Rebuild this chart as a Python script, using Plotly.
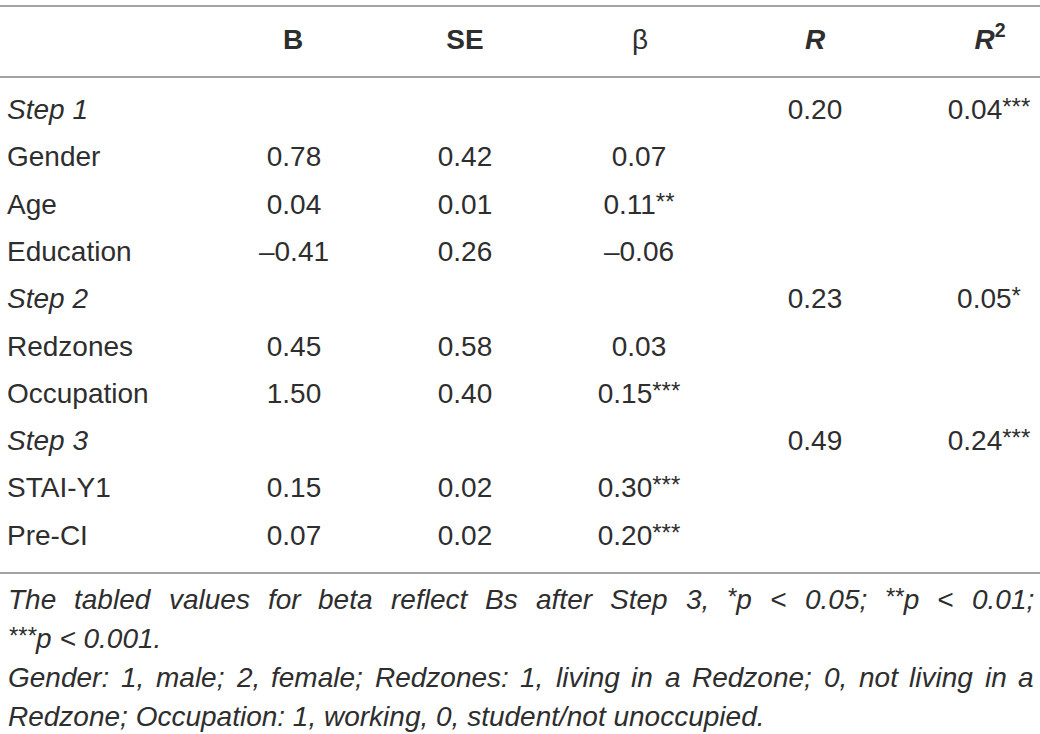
import re
import plotly.graph_objects as go

# table content
labels = ["Step 1", "Gender", "Age", "Education", "Step 2", "Redzones",
          "Occupation", "Step 3", "STAI-Y1", "Pre-CI"]
is_step = [True, False, False, False, True, False, False, True, False, False]
b_vals = ["", "0.78", "0.04", "\u20130.41", "", "0.45", "1.50", "", "0.15", "0.07"]
se_vals = ["", "0.42", "0.01", "0.26", "", "0.58", "0.40", "", "0.02", "0.02"]
beta_vals = ["", "0.07", "0.11", "\u20130.06", "", "0.03", "0.15", "", "0.30", "0.20"]
beta_sig = ["", "", "**", "", "", "", "***", "", "***", "***"]
r_vals = ["0.20", "", "", "", "0.23", "", "", "0.49", "", ""]
r2_vals = ["0.04", "", "", "", "0.05", "", "", "0.24", "", ""]
r2_sig = ["***", "", "", "", "*", "", "", "***", "", ""]
headers = ["<b>B</b>", "<b>SE</b>", "\u03b2", "<b><i>R</i></b>", "<b><i>R</i><sup>2</sup></b>"]

STAR = '<span style="font-size:24px;baseline-shift:4px">{}</span>'
notes = [
    ("The tabled values for beta reflect Bs after Step 3, " + STAR.format("*") + "p < 0.05; "
     + STAR.format("**") + "p < 0.01;", True),
    (STAR.format("***") + "p < 0.001.", False),
    ("Gender: 1, male; 2, female; Redzones: 1, living in a Redzone; 0, not living in a", True),
    ("Redzone; Occupation: 1, working, 0, student/not unoccupied.", False),
]

FONT = "Liberation Sans, Arial, sans-serif"
INK = "#2e2e2e"
SIZE = 28
NOTE_SIZE = 28
row_y = [112 + i * 47.3 for i in range(len(labels))]
col_x = [294, 465, 639, 815, 989]
head_x = [293, 465, 640, 815, 990]
note_y = [599, 638, 677, 716]
LEFT, RIGHT = 7, 1033

# approximate Arial advance widths (1/1000 em) for justifying footnote lines
W = {" ": 278, "*": 389, ",": 278, "-": 333, ".": 278, "/": 278, ":": 278, ";": 278, "<": 584}
for ch in "0123456789":
    W[ch] = 556
W.update(dict(zip("ABCDEFGHIJKLMNOPQRSTUVWXYZ",
                  [667, 667, 722, 722, 667, 611, 778, 722, 278, 500, 667, 556, 833,
                   722, 778, 667, 778, 722, 667, 611, 722, 667, 944, 667, 667, 611])))
W.update(dict(zip("abcdefghijklmnopqrstuvwxyz",
                  [556, 556, 500, 556, 556, 278, 556, 556, 222, 222, 500, 222, 833,
                   556, 556, 556, 556, 333, 500, 278, 556, 500, 722, 500, 500, 500])))


def text_width(s, size):
    w = 0.0
    for part in re.split(r"(<span[^>]*>.*?</span>)", s):
        if part.startswith("<span"):
            inner = re.sub(r"<[^>]+>", "", part)
            w += sum(W.get(c, 556) for c in inner) * 24 / size
        else:
            w += sum(W.get(c, 556) for c in part)
    return w * size / 1000.0


def with_sig(vals, sig):
    return [v + (STAR.format(s) if s else "") for v, s in zip(vals, sig)]


fig = go.Figure()

# row labels
lab_txt = ["<i>" + l + "</i>" if s else l for l, s in zip(labels, is_step)]
fig.add_trace(go.Scatter(x=[LEFT] * len(labels), y=row_y, mode="text", text=lab_txt,
                         textposition="middle right", hoverinfo="skip",
                         textfont=dict(family=FONT, size=SIZE, color=INK)))

columns = [b_vals, se_vals, with_sig(beta_vals, beta_sig), r_vals, with_sig(r2_vals, r2_sig)]
for cx, vals in zip(col_x, columns):
    fig.add_trace(go.Scatter(x=[cx] * len(vals), y=row_y, mode="text", text=vals,
                             textposition="middle center", hoverinfo="skip",
                             textfont=dict(family=FONT, size=SIZE, color=INK)))

# header
fig.add_trace(go.Scatter(x=head_x, y=[42] * len(headers), mode="text", text=headers,
                         textposition="middle center", hoverinfo="skip",
                         textfont=dict(family=FONT, size=SIZE, color=INK)))

# rules
for yy in [6, 77, 573]:
    fig.add_shape(type="line", x0=0, x1=1040, y0=yy, y1=yy,
                  line=dict(color="#a3a3a3", width=2))

# footnotes; justified lines are placed word by word
for yy, (line, justify) in zip(note_y, notes):
    if not justify:
        fig.add_annotation(x=LEFT, y=yy, text="<i>" + line + "</i>", showarrow=False,
                           xanchor="left", yanchor="middle", borderpad=0,
                           font=dict(family=FONT, size=NOTE_SIZE, color=INK))
        continue
    # split on spaces outside of tags
    words = re.findall(r"(?:<span[^>]*>[^<]*</span>)?\S+", line)
    words = [w for w in words if w]
    widths = [text_width(w, NOTE_SIZE) for w in words]
    gap = (RIGHT - LEFT - sum(widths)) / (len(words) - 1)
    xx = LEFT
    for w, ww in zip(words, widths):
        fig.add_annotation(x=xx, y=yy, text="<i>" + w + "</i>", showarrow=False,
                           xanchor="left", yanchor="middle", borderpad=0,
                           font=dict(family=FONT, size=NOTE_SIZE, color=INK))
        xx += ww + gap

fig.update_layout(
    width=1040, height=734,
    margin=dict(l=0, r=0, t=0, b=0),
    paper_bgcolor="white", plot_bgcolor="white",
    showlegend=False, hovermode=False,
    xaxis=dict(range=[0, 1040], visible=False, fixedrange=True),
    yaxis=dict(range=[734, 0], visible=False, fixedrange=True),
)

fig.write_html("out.html", config={"displayModeBar": False},
               post_script="document.body.style.margin='0';")
